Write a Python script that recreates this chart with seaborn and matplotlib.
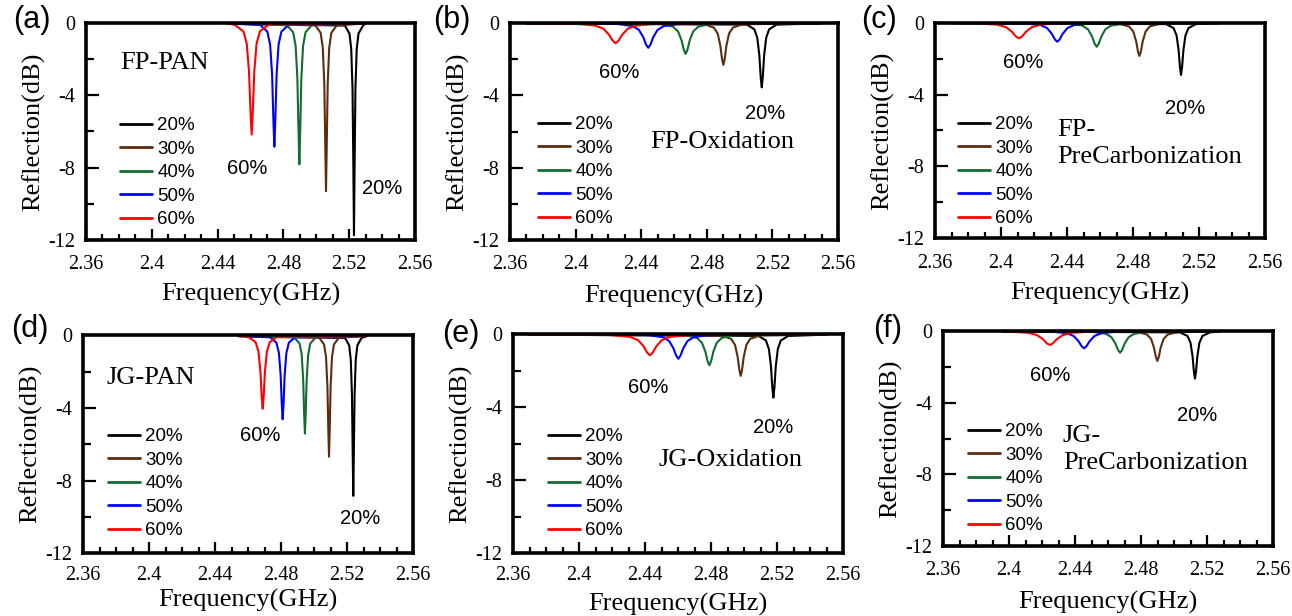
import matplotlib
matplotlib.use("Agg")
import matplotlib.pyplot as plt
import pandas as pd
import seaborn as sns
from matplotlib.ticker import MultipleLocator

# ---------------- data ----------------
SERIES = ["20%", "30%", "40%", "50%", "60%"]
COLORS = ["#000000", "#5a2d0c", "#146b31", "#0000ff", "#ff0000"]
X_TICKS = [2.36, 2.40, 2.44, 2.48, 2.52, 2.56]
X_TICK_LABELS = ["2.36", "2.4", "2.44", "2.48", "2.52", "2.56"]
Y_TICKS = [0, -4, -8, -12]
Y_TICK_LABELS = ["0", "-4", "-8", "-12"]
PANEL_LETTERS = ["(a)", "(b)", "(c)", "(d)", "(e)", "(f)"]
PANEL_NAMES = ["FP-PAN", "FP-Oxidation", "FP-\nPreCarbonization",
               "JG-PAN", "JG-Oxidation", "JG-\nPreCarbonization"]
X_LABEL = "Frequency(GHz)"
Y_LABEL = "Reflection(dB)"

FP_PAN_FREQ = {
    "20%": [2.446, 2.5174, 2.52015, 2.52125, 2.52202, 2.5225, 2.5229, 2.5233, 2.52378, 2.52455, 2.52565, 2.5284, 2.530],
    "30%": [2.446, 2.4994, 2.50265, 2.50395, 2.50486, 2.50544, 2.5059, 2.50636, 2.50694, 2.50785, 2.50915, 2.5124, 2.530],
    "40%": [2.446, 2.4822, 2.48595, 2.48745, 2.4885, 2.48918, 2.4897, 2.49022, 2.4909, 2.49195, 2.49345, 2.4972, 2.530],
    "50%": [2.446, 2.466, 2.47025, 2.47195, 2.47314, 2.4739, 2.4745, 2.4751, 2.47586, 2.47705, 2.47875, 2.483, 2.530],
    "60%": [2.446, 2.4507, 2.4557, 2.4577, 2.4591, 2.46, 2.4607, 2.4614, 2.4623, 2.4637, 2.4657, 2.4707, 2.530],
}
FP_PAN_REFL = {
    "20%": [-0.04, -0.16, -0.60, -1.47, -3.65, -7.72, -11.73, -7.72, -3.65, -1.47, -0.60, -0.16, -0.04],
    "30%": [-0.04, -0.15, -0.56, -1.38, -3.36, -6.70, -9.30, -6.70, -3.36, -1.38, -0.56, -0.15, -0.04],
    "40%": [-0.04, -0.14, -0.53, -1.29, -3.09, -5.91, -7.82, -5.91, -3.09, -1.29, -0.53, -0.14, -0.04],
    "50%": [-0.04, -0.13, -0.50, -1.22, -2.87, -5.33, -6.85, -5.33, -2.87, -1.22, -0.50, -0.13, -0.04],
    "60%": [-0.04, -0.13, -0.48, -1.15, -2.70, -4.89, -6.17, -4.89, -2.70, -1.15, -0.48, -0.13, -0.04],
}

FP_OX_FREQ = {
    "20%": [2.370, 2.5045, 2.509, 2.5108, 2.51206, 2.51287, 2.5135, 2.51413, 2.51494, 2.5162, 2.518, 2.5225, 2.550],
    "30%": [2.370, 2.4786, 2.48435, 2.48665, 2.48826, 2.4893, 2.4901, 2.4909, 2.49194, 2.49355, 2.49585, 2.5016, 2.550],
    "40%": [2.370, 2.4516, 2.45935, 2.46245, 2.46462, 2.46601, 2.4671, 2.46819, 2.46958, 2.47175, 2.47485, 2.4826, 2.550],
    "50%": [2.370, 2.4253, 2.4348, 2.4386, 2.44126, 2.44297, 2.4443, 2.44563, 2.44734, 2.45, 2.4538, 2.4633, 2.550],
    "60%": [2.370, 2.3994, 2.4119, 2.4169, 2.4204, 2.42265, 2.4244, 2.42615, 2.4284, 2.4319, 2.4369, 2.4494, 2.550],
}
FP_OX_REFL = {
    "20%": [-0.02, -0.09, -0.35, -0.82, -1.81, -3.00, -3.56, -3.00, -1.81, -0.82, -0.35, -0.09, -0.02],
    "30%": [-0.02, -0.07, -0.26, -0.59, -1.26, -2.00, -2.32, -2.00, -1.26, -0.59, -0.26, -0.07, -0.02],
    "40%": [-0.02, -0.05, -0.20, -0.46, -0.96, -1.49, -1.71, -1.49, -0.96, -0.46, -0.20, -0.05, -0.02],
    "50%": [-0.02, -0.05, -0.17, -0.38, -0.78, -1.20, -1.37, -1.20, -0.78, -0.38, -0.17, -0.05, -0.02],
    "60%": [-0.02, -0.04, -0.14, -0.31, -0.65, -0.98, -1.12, -0.98, -0.65, -0.31, -0.14, -0.04, -0.02],
}

FP_PC_FREQ = {
    "20%": [2.370, 2.5001, 2.5046, 2.5064, 2.50766, 2.50847, 2.5091, 2.50973, 2.51054, 2.5118, 2.5136, 2.5181, 2.533],
    "30%": [2.370, 2.4714, 2.47765, 2.48015, 2.4819, 2.48302, 2.4839, 2.48478, 2.4859, 2.48765, 2.49015, 2.4964, 2.533],
    "40%": [2.370, 2.4405, 2.44925, 2.45275, 2.4552, 2.45677, 2.458, 2.45923, 2.4608, 2.46325, 2.46675, 2.4755, 2.533],
    "50%": [2.370, 2.4136, 2.42385, 2.42795, 2.43082, 2.43266, 2.4341, 2.43554, 2.43738, 2.44025, 2.44435, 2.4546, 2.533],
    "60%": [2.370, 2.3849, 2.3979, 2.4031, 2.40674, 2.40908, 2.4109, 2.41272, 2.41506, 2.4187, 2.4239, 2.4369, 2.533],
}
FP_PC_REFL = {
    "20%": [-0.02, -0.08, -0.30, -0.71, -1.54, -2.48, -2.91, -2.48, -1.54, -0.71, -0.30, -0.08, -0.02],
    "30%": [-0.02, -0.06, -0.21, -0.49, -1.03, -1.61, -1.85, -1.61, -1.03, -0.49, -0.21, -0.06, -0.02],
    "40%": [-0.02, -0.04, -0.16, -0.37, -0.77, -1.17, -1.34, -1.17, -0.77, -0.37, -0.16, -0.04, -0.02],
    "50%": [-0.02, -0.04, -0.13, -0.30, -0.62, -0.93, -1.06, -0.93, -0.62, -0.30, -0.13, -0.04, -0.02],
    "60%": [-0.02, -0.03, -0.11, -0.25, -0.51, -0.77, -0.87, -0.77, -0.51, -0.25, -0.11, -0.03, -0.02],
}

JG_PAN_FREQ = {
    "20%": [2.454, 2.5188, 2.5213, 2.5223, 2.523, 2.52345, 2.5238, 2.52415, 2.5246, 2.5253, 2.5263, 2.5288, 2.532],
    "30%": [2.454, 2.5031, 2.5061, 2.5073, 2.50814, 2.50868, 2.5091, 2.50952, 2.51006, 2.5109, 2.5121, 2.5151, 2.532],
    "40%": [2.454, 2.488, 2.49125, 2.49255, 2.49346, 2.49404, 2.4945, 2.49496, 2.49554, 2.49645, 2.49775, 2.501, 2.532],
    "50%": [2.454, 2.4735, 2.47725, 2.47875, 2.4798, 2.48047, 2.481, 2.48153, 2.4822, 2.48325, 2.48475, 2.4885, 2.532],
    "60%": [2.454, 2.4604, 2.46465, 2.46635, 2.46754, 2.4683, 2.4689, 2.4695, 2.47026, 2.47145, 2.47315, 2.4774, 2.532],
}
JG_PAN_REFL = {
    "20%": [-0.04, -0.15, -0.55, -1.35, -3.28, -6.47, -8.84, -6.47, -3.28, -1.35, -0.55, -0.15, -0.04],
    "30%": [-0.04, -0.13, -0.50, -1.20, -2.83, -5.22, -6.68, -5.22, -2.83, -1.20, -0.50, -0.13, -0.04],
    "40%": [-0.04, -0.12, -0.45, -1.07, -2.47, -4.37, -5.41, -4.37, -2.47, -1.07, -0.45, -0.12, -0.04],
    "50%": [-0.04, -0.11, -0.41, -0.98, -2.21, -3.80, -4.62, -3.80, -2.21, -0.98, -0.41, -0.11, -0.04],
    "60%": [-0.04, -0.10, -0.38, -0.90, -2.00, -3.37, -4.04, -3.37, -2.00, -0.90, -0.38, -0.10, -0.04],
}

JG_OX_FREQ = {
    "20%": [2.370, 2.5088, 2.5133, 2.5151, 2.51636, 2.51717, 2.5178, 2.51843, 2.51924, 2.5205, 2.5223, 2.5268, 2.550],
    "30%": [2.370, 2.4865, 2.49225, 2.49455, 2.49616, 2.4972, 2.498, 2.4988, 2.49984, 2.50145, 2.50375, 2.5095, 2.550],
    "40%": [2.370, 2.464, 2.4715, 2.4745, 2.4766, 2.47795, 2.479, 2.48005, 2.4814, 2.4835, 2.4865, 2.494, 2.550],
    "50%": [2.370, 2.4417, 2.45095, 2.45465, 2.45724, 2.4589, 2.4602, 2.4615, 2.46316, 2.46575, 2.46945, 2.4787, 2.550],
    "60%": [2.370, 2.419, 2.431, 2.4358, 2.43916, 2.44132, 2.443, 2.44468, 2.44684, 2.4502, 2.455, 2.467, 2.550],
}
JG_OX_REFL = {
    "20%": [-0.02, -0.09, -0.34, -0.81, -1.77, -2.93, -3.47, -2.93, -1.77, -0.81, -0.34, -0.09, -0.02],
    "30%": [-0.02, -0.07, -0.25, -0.58, -1.24, -1.96, -2.28, -1.96, -1.24, -0.58, -0.25, -0.07, -0.02],
    "40%": [-0.02, -0.05, -0.20, -0.46, -0.96, -1.48, -1.70, -1.48, -0.96, -0.46, -0.20, -0.05, -0.02],
    "50%": [-0.02, -0.04, -0.16, -0.37, -0.77, -1.17, -1.34, -1.17, -0.77, -0.37, -0.16, -0.04, -0.02],
    "60%": [-0.02, -0.04, -0.14, -0.32, -0.66, -1.01, -1.15, -1.01, -0.66, -0.32, -0.14, -0.04, -0.02],
}

JG_PC_FREQ = {
    "20%": [2.396, 2.5037, 2.5082, 2.51, 2.51126, 2.51207, 2.5127, 2.51333, 2.51414, 2.5154, 2.5172, 2.5217, 2.528],
    "30%": [2.396, 2.4774, 2.48365, 2.48615, 2.4879, 2.48902, 2.4899, 2.49078, 2.4919, 2.49365, 2.49615, 2.5024, 2.528],
    "40%": [2.396, 2.4498, 2.45855, 2.46205, 2.4645, 2.46607, 2.4673, 2.46853, 2.4701, 2.47255, 2.47605, 2.4848, 2.528],
    "50%": [2.396, 2.4245, 2.435, 2.4392, 2.44214, 2.44403, 2.4455, 2.44697, 2.44886, 2.4518, 2.456, 2.4665, 2.528],
    "60%": [2.396, 2.3988, 2.4118, 2.417, 2.42064, 2.42298, 2.4248, 2.42662, 2.42896, 2.4326, 2.4378, 2.4508, 2.528],
}
JG_PC_REFL = {
    "20%": [-0.02, -0.08, -0.28, -0.66, -1.42, -2.28, -2.66, -2.28, -1.42, -0.66, -0.28, -0.08, -0.02],
    "30%": [-0.02, -0.05, -0.20, -0.45, -0.94, -1.45, -1.67, -1.45, -0.94, -0.45, -0.20, -0.05, -0.02],
    "40%": [-0.02, -0.04, -0.15, -0.34, -0.70, -1.06, -1.21, -1.06, -0.70, -0.34, -0.15, -0.04, -0.02],
    "50%": [-0.02, -0.03, -0.12, -0.28, -0.57, -0.85, -0.97, -0.85, -0.57, -0.28, -0.12, -0.03, -0.02],
    "60%": [-0.02, -0.03, -0.10, -0.23, -0.46, -0.69, -0.78, -0.69, -0.46, -0.23, -0.10, -0.03, -0.02],
}

PANEL_DATA = [(FP_PAN_FREQ, FP_PAN_REFL), (FP_OX_FREQ, FP_OX_REFL), (FP_PC_FREQ, FP_PC_REFL),
              (JG_PAN_FREQ, JG_PAN_REFL), (JG_OX_FREQ, JG_OX_REFL), (JG_PC_FREQ, JG_PC_REFL)]

# ---------------- layout (pixels in a 1292x616 canvas) ----------------
W, H = 1292, 616
LAYOUT = [
    dict(box=(86, 22.7, 415, 240), xpad=11, xlab=43, leg=(120, 117), letter=(32, 20),
         name=(2.3807, -2.23), ann=[(2.4579, -8.03, "60%"), (2.5399, -9.13, "20%")]),
    dict(box=(510, 23, 838, 240), xpad=11, xlab=45, leg=(538, 116), letter=(452, 20),
         name=(2.4454, -6.58), ann=[(2.4265, -2.71, "60%"), (2.5155, -4.98, "20%")]),
    dict(box=(935, 22.7, 1265, 238.3), xpad=11, xlab=44, leg=(958, 116), letter=(879, 20),
         name=(2.4339, -6.70), ann=[(2.4133, -2.19, "60%"), (2.5115, -4.80, "20%")]),
    dict(box=(83, 335.3, 413, 553.3), xpad=9, xlab=36, leg=(108, 428), letter=(30, 329),
         name=(2.3745, -2.35), ann=[(2.4673, -5.54, "60%"), (2.5279, -10.06, "20%")]),
    dict(box=(513, 334.3, 843, 553.3), xpad=9, xlab=40, leg=(548, 428), letter=(461, 334),
         name=(2.4479, -6.89), ann=[(2.4418, -2.89, "60%"), (2.5176, -5.08, "20%")]),
    dict(box=(943, 331, 1273, 546), xpad=11, xlab=45, leg=(968, 423), letter=(888, 329),
         name=(2.4327, -6.62), ann=[(2.4248, -2.51, "60%"), (2.5139, -4.74, "20%")]),
]

sns.set_style("ticks")
SERIF = ["Liberation Serif", "DejaVu Serif"]
SANS = ["Liberation Sans", "DejaVu Sans"]
plt.rcParams["font.family"] = SERIF
plt.rcParams["font.serif"] = SERIF
plt.rcParams["axes.edgecolor"] = "black"
plt.rcParams["xtick.color"] = "black"
plt.rcParams["ytick.color"] = "black"
plt.rcParams["text.color"] = "black"
plt.rcParams["axes.labelcolor"] = "black"

fig = plt.figure(figsize=(W / 100, H / 100), dpi=100)

for i, ((freq, refl), lay) in enumerate(zip(PANEL_DATA, LAYOUT)):
    l, t, r, b = lay["box"]
    wpx, hpx = r - l, b - t
    ax = fig.add_axes([l / W, 1 - b / H, wpx / W, hpx / H])
    df = pd.concat([pd.DataFrame({"Frequency": freq[s], "Reflection": refl[s], "Series": s})
                    for s in SERIES], ignore_index=True)
    sns.lineplot(data=df, x="Frequency", y="Reflection", hue="Series", hue_order=SERIES,
                 palette=COLORS, estimator=None, sort=False, linewidth=1.5, ax=ax)
    ax.set_xlim(2.36, 2.56)
    ax.set_ylim(-12, 0)
    ax.set_xticks(X_TICKS, X_TICK_LABELS)
    ax.set_yticks(Y_TICKS, Y_TICK_LABELS)
    ax.xaxis.set_minor_locator(MultipleLocator(0.01))
    ax.yaxis.set_minor_locator(MultipleLocator(2))
    ax.tick_params(axis="x", which="both", direction="in", bottom=True, top=False,
                   labelsize=14.5, pad=lay["xpad"], width=1.6, labelfontfamily="Liberation Serif")
    ax.tick_params(axis="x", which="major", length=8)
    ax.tick_params(axis="x", which="minor", length=4.5)
    ax.tick_params(axis="y", which="both", direction="in", left=True, right=False,
                   labelsize=14.5, pad=8, width=1.6, labelfontfamily="Liberation Serif")
    ax.tick_params(axis="y", which="major", length=9)
    ax.tick_params(axis="y", which="minor", length=5.5)
    for sp in ax.spines.values():
        sp.set_linewidth(2.6)
        sp.set_color("black")
        sp.set_visible(True)
    ax.set_xlabel(X_LABEL, fontsize=19, family=SERIF)
    ax.xaxis.set_label_coords(0.5, -lay["xlab"] / hpx)
    ax.set_ylabel(Y_LABEL, fontsize=19, family=SERIF)
    ax.yaxis.set_label_coords(-41 / wpx, 0.5)

    old = ax.get_legend()
    handles = list(old.legend_handles)
    labels = [tx.get_text() for tx in old.get_texts()]
    old.remove()
    lx, ly = lay["leg"]
    leg = ax.legend(handles, labels, loc="upper left",
                    bbox_to_anchor=((lx - l) / wpx, 1 - (ly - t) / hpx),
                    frameon=False, prop={"family": SANS, "size": 13.5},
                    handlelength=1.7, handletextpad=0.3, labelspacing=0.34,
                    borderpad=0, borderaxespad=0)
    for ln in leg.get_lines():
        ln.set_linewidth(2.0)

    for (xa, ya, txt) in lay["ann"]:
        ax.text(xa, ya, txt, fontsize=14.5, family=SANS, ha="center", va="center")
    ax.text(lay["name"][0], lay["name"][1], PANEL_NAMES[i], fontsize=19, family=SERIF,
            ha="left", va="center", linespacing=1.3)
    fx, fy = lay["letter"]
    fig.text(fx / W, 1 - fy / H, PANEL_LETTERS[i], fontsize=22, family=SANS,
             ha="center", va="center")

fig.savefig("out.png", dpi=100)
